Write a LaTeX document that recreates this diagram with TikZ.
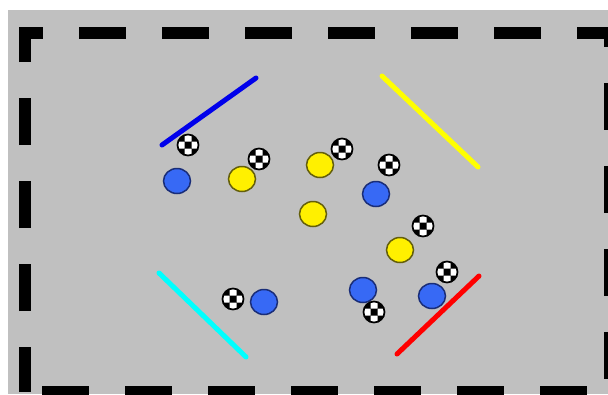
\documentclass[tikz,border=0pt]{standalone}
\usetikzlibrary{shapes.geometric}
\definecolor{field}{RGB}{192,192,192}
\definecolor{botblue}{RGB}{55,105,245}
\definecolor{botblueedge}{RGB}{25,45,120}
\definecolor{botyellow}{RGB}{255,240,0}
\definecolor{botyellowedge}{RGB}{100,95,10}
\definecolor{lineblue}{RGB}{0,0,235}
\definecolor{lineyellow}{RGB}{255,255,0}
\definecolor{linecyan}{RGB}{0,255,255}
\definecolor{linered}{RGB}{255,0,0}
\tikzset{
  bluebot/.style={ellipse, minimum width=27pt, minimum height=25pt, inner sep=0pt,
    fill=botblue, draw=botblueedge, line width=1.5pt},
  yellowbot/.style={ellipse, minimum width=27pt, minimum height=25pt, inner sep=0pt,
    fill=botyellow, draw=botyellowedge, line width=1.5pt},
  ball/.style={circle, minimum size=21pt, inner sep=0pt, fill=white, draw=black, line width=1.7pt,
    path picture={
      \begin{scope}[shift={(path picture bounding box.center)}]
        \fill[black] (-10.5pt,-10.5pt) rectangle (-3.5pt,-3.5pt)
                     (3.5pt,-10.5pt) rectangle (10.5pt,-3.5pt)
                     (-10.5pt,3.5pt) rectangle (-3.5pt,10.5pt)
                     (3.5pt,3.5pt) rectangle (10.5pt,10.5pt)
                     (-3.5pt,-3.5pt) rectangle (3.5pt,3.5pt);
      \end{scope}}},
  goalline/.style={line width=5pt, line cap=round},
  fieldborder/.style={line width=12pt, dash pattern=on 47pt off 36pt, dash phase=2pt, line join=miter}
}
\begin{document}
\begin{tikzpicture}[x=1pt,y=-1pt]
\useasboundingbox (0,0) rectangle (608,394);
\fill[white] (0,0) rectangle (608,394);
\fill[field] (8,10) rectangle (608,394);
% dashed field border
\coordinate (bl) at (25,392);
\coordinate (tl) at (25,33);
\coordinate (tr) at (610,33);
\coordinate (br) at (610,392);
\draw[fieldborder] (bl) -- (tl) -- (tr) -- (br) -- cycle;
% coloured lines
\coordinate (b1) at (162,145); \coordinate (b2) at (256,78);
\coordinate (y1) at (382,76);  \coordinate (y2) at (478,167);
\coordinate (c1) at (159,273); \coordinate (c2) at (246,357);
\coordinate (r1) at (479,276); \coordinate (r2) at (397,354);
\draw[goalline, lineblue] (b1) -- (b2);
\draw[goalline, lineyellow] (y1) -- (y2);
\draw[goalline, linecyan] (c1) -- (c2);
\draw[goalline, linered] (r1) -- (r2);
% blue robots
\node[bluebot] (bb1) at (177,181) {};
\node[bluebot] (bb2) at (376,194) {};
\node[bluebot] (bb3) at (264,302) {};
\node[bluebot] (bb4) at (363,290) {};
\node[bluebot] (bb5) at (432,296) {};
% yellow robots
\node[yellowbot] (yb1) at (242,179) {};
\node[yellowbot] (yb2) at (320,165) {};
\node[yellowbot] (yb3) at (313,214) {};
\node[yellowbot] (yb4) at (400,250) {};
% balls
\node[ball] (ba1) at (188,145) {};
\node[ball] (ba2) at (259,159) {};
\node[ball] (ba3) at (342,149) {};
\node[ball] (ba4) at (389,165) {};
\node[ball] (ba5) at (423,226) {};
\node[ball] (ba6) at (447,272) {};
\node[ball] (ba7) at (233,299) {};
\node[ball] (ba8) at (374,312) {};
\end{tikzpicture}
\end{document}
